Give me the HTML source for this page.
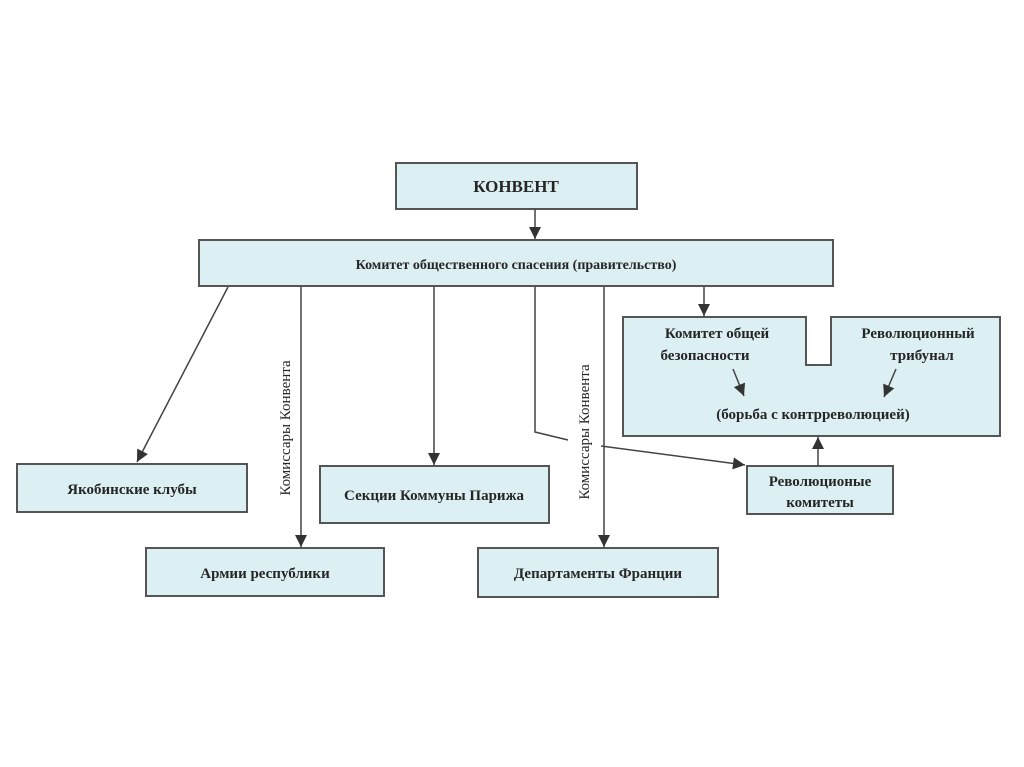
<!DOCTYPE html>
<html><head><meta charset="utf-8"><style>
html,body{margin:0;padding:0;background:#fff;}
svg{display:block;}
text{font-family:"Liberation Serif",serif;fill:#262626;}
.b{font-weight:bold;font-size:15px;}
</style></head><body>
<svg width="1024" height="767" viewBox="0 0 1024 767" xmlns="http://www.w3.org/2000/svg">
<defs>
<marker id="a" viewBox="0 0 10 10" refX="10" refY="5" markerWidth="14" markerHeight="12" orient="auto" markerUnits="userSpaceOnUse">
<path d="M0,0 L10,5 L0,10 Z" fill="#333"/>
</marker>
</defs>
<g fill="#dcf0f3" stroke="#555" stroke-width="2">
<rect x="396" y="163" width="241" height="46"/>
<rect x="199" y="240" width="634" height="46"/>
<path d="M623,317 H806 V365 H831 V317 H1000 V436 H623 Z"/>
<rect x="747" y="466" width="146" height="48"/>
<rect x="17" y="464" width="230" height="48"/>
<rect x="320" y="466" width="229" height="57"/>
<rect x="146" y="548" width="238" height="48"/>
<rect x="478" y="548" width="240" height="49"/>
</g>
<g stroke="#444" stroke-width="1.5" fill="none">
<polyline points="535,287 535,432 568,440"/>
</g>
<g stroke="#444" stroke-width="1.5" fill="none" marker-end="url(#a)">
<line x1="535" y1="209" x2="535" y2="239"/>
<line x1="228" y1="287" x2="137" y2="462"/>
<line x1="301" y1="287" x2="301" y2="547"/>
<line x1="434" y1="287" x2="434" y2="465"/>
<line x1="601" y1="446" x2="745" y2="465"/>
<line x1="604" y1="287" x2="604" y2="547"/>
<line x1="704" y1="287" x2="704" y2="316"/>
<line x1="818" y1="466" x2="818" y2="437"/>
<line x1="733" y1="369" x2="744" y2="396"/>
<line x1="896" y1="369" x2="884" y2="397"/>
</g>
<text class="b" x="516" y="192" text-anchor="middle" style="font-size:17px">КОНВЕНТ</text>
<text class="b" x="516" y="269" text-anchor="middle" style="font-size:14px">Комитет общественного спасения (правительство)</text>
<text class="b" x="717" y="338" text-anchor="middle">Комитет общей</text>
<text class="b" x="705" y="360" text-anchor="middle">безопасности</text>
<text class="b" x="918" y="338" text-anchor="middle">Революционный</text>
<text class="b" x="922" y="360" text-anchor="middle">трибунал</text>
<text class="b" x="813" y="419" text-anchor="middle">(борьба с контрреволюцией)</text>
<text class="b" x="820" y="486" text-anchor="middle">Революционые</text>
<text class="b" x="820" y="507" text-anchor="middle">комитеты</text>
<text class="b" x="132" y="494" text-anchor="middle">Якобинские клубы</text>
<text class="b" x="434" y="500" text-anchor="middle">Секции Коммуны Парижа</text>
<text class="b" x="265" y="578" text-anchor="middle">Армии республики</text>
<text class="b" x="598" y="578" text-anchor="middle">Департаменты Франции</text>
<text x="0" y="0" transform="translate(290,428) rotate(-90)" text-anchor="middle" style="font-size:15px">Комиссары Конвента</text>
<text x="0" y="0" transform="translate(589,432) rotate(-90)" text-anchor="middle" style="font-size:15px">Комиссары Конвента</text>
</svg>
</body></html>
